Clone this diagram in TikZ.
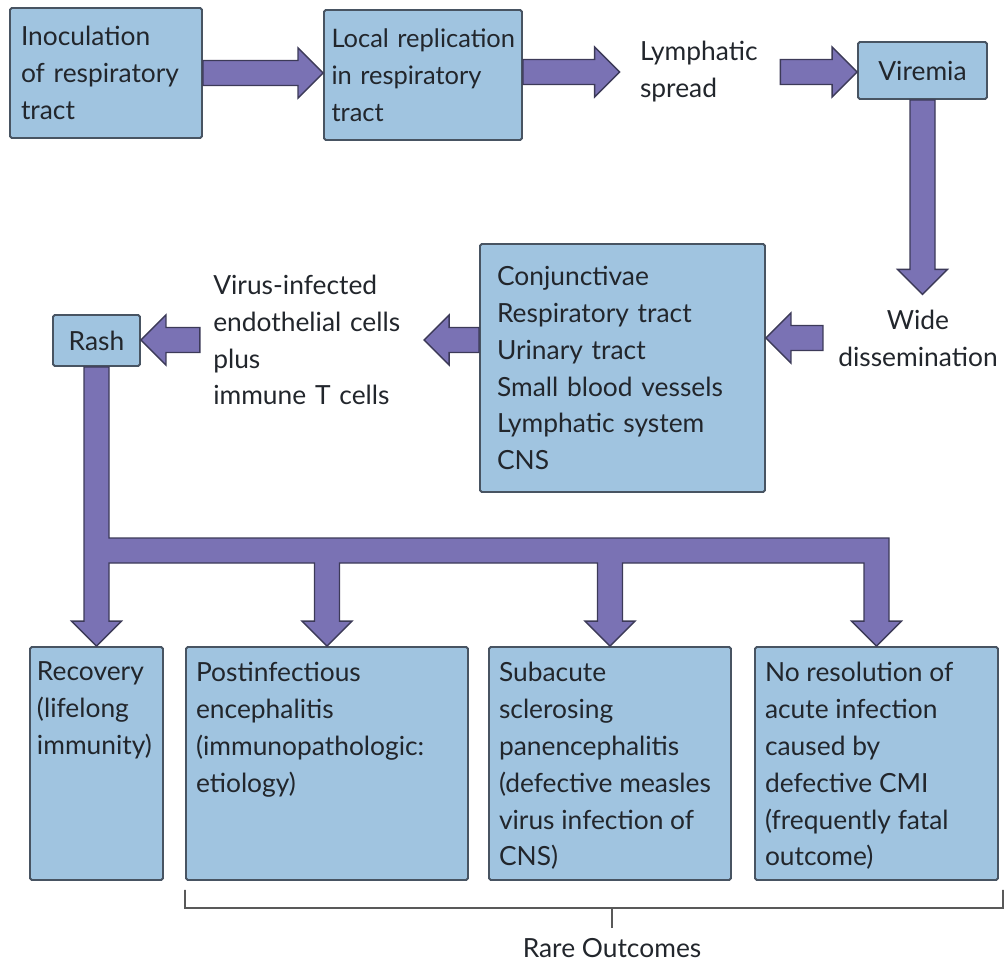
\documentclass[tikz,border=0pt]{standalone}
\usepackage{fontspec}
\setmainfont{Lato}
\usetikzlibrary{calc}
\hyphenpenalty=10000
\exhyphenpenalty=10000

\definecolor{boxblue}{RGB}{160,196,224}
\definecolor{boxedge}{RGB}{72,84,98}
\definecolor{arrowfill}{RGB}{122,114,180}
\definecolor{arrowedge}{RGB}{60,58,88}
\definecolor{inktext}{RGB}{34,38,44}

% block arrow sizes
\newcommand{\shaftw}{0.25cm}
\newcommand{\headw}{0.5cm}
\newcommand{\headl}{0.5cm}
% block arrow from #1 to tip #2
\newcommand{\fatarrow}[2]{%
  \coordinate (fah) at ($(#2)!\headl!(#1)$);
  \filldraw[fat] ($(#1)!\shaftw!90:(#2)$) -- ($(fah)!\shaftw!90:(#2)$)
    -- ($(fah)!\headw!90:(#2)$) -- (#2) -- ($(fah)!\headw!-90:(#2)$)
    -- ($(fah)!\shaftw!-90:(#2)$) -- ($(#1)!\shaftw!-90:(#2)$) -- cycle;}
% text set at the top of an outcome box
\newcommand{\toptext}[3]{\parbox[t][#1][t]{#2}{\raggedright #3}}

\begin{document}
\begin{tikzpicture}[font=\fontsize{15}{21}\selectfont, text=inktext,
    box/.style={draw=boxedge, fill=boxblue, line width=1.1pt, rounded corners=1pt, align=left, inner xsep=0.3cm},
    outcome/.style={draw=boxedge, fill=boxblue, line width=1.1pt, rounded corners=1pt, inner xsep=0.2cm, inner ysep=0.3cm},
    note/.style={align=left},
    fat/.style={fill=arrowfill, draw=arrowedge, line width=0.8pt},
    brace/.style={draw=black!65, line width=1pt}]
  \useasboundingbox (0,0) rectangle (20.16,-19.22);

  % top row
  \node[box, minimum width=3.84cm, minimum height=2.6cm, text width=3.4cm, inner xsep=0.22cm] (inoc) at (2.12,-1.46) {Inoculation\\of respiratory\\tract};
  \node[box, minimum width=3.96cm, minimum height=2.6cm, text width=3.66cm, inner xsep=0.15cm,
        font=\fontsize{14.5}{21}\selectfont] (local) at (8.46,-1.5) {\mbox{Local replication}\\in respiratory\\tract};
  \node[note, text width=2.4cm, inner xsep=0.4cm] (lymph) at (14.0,-1.44) {Lymphatic\\spread};
  \node[box, minimum width=2.58cm, minimum height=1.14cm, align=center] (viremia) at (18.45,-1.41) {Viremia};

  % middle row
  \node[note, align=center, inner sep=0.3cm] (wide) at (18.36,-6.76) {Wide\\dissemination};
  \node[box, minimum width=5.7cm, minimum height=4.96cm, text width=5.02cm, inner xsep=0.34cm] (sites) at (12.45,-7.36)
    {Conjunctivae\\Respiratory tract\\Urinary tract\\Small blood vessels\\Lymphatic system\\CNS};
  \node[note, text width=3.95cm, inner xsep=0.26cm] (virus) at (6.24,-6.8) {Virus-infected\\endothelial cells\\plus\\immune T cells};
  \node[box, minimum width=1.74cm, minimum height=1.02cm, align=center, inner xsep=0pt] (rash) at (1.93,-6.81) {Rash};

  % outcomes
  \node[outcome, inner xsep=0.14cm] (recov) at (1.93,-15.27) {\toptext{4.06cm}{2.38cm}{Recovery\\(lifelong\\immunity)}};
  \node[outcome] (postinf) at (6.54,-15.27) {\toptext{4.06cm}{5.24cm}{Postinfectious\\encephalitis\\(immunopathologic:\\etiology)}};
  \node[outcome] (subac) at (12.2,-15.27) {\toptext{4.06cm}{4.44cm}{Subacute\\sclerosing\\panencephalitis\\(defective measles\\virus infection of\\CNS)}};
  \node[outcome] (nores) at (17.53,-15.27) {\toptext{4.06cm}{4.46cm}{No resolution of\\acute infection\\caused by\\defective CMI\\(frequently fatal\\outcome)}};
  \node[note, inner sep=0.2cm] (rare) at (12.24,-18.96) {Rare Outcomes};

  % arrows
  \fatarrow{inoc.east}{inoc.east -| local.west}
  \fatarrow{lymph.west -| local.east}{lymph.west}
  \fatarrow{lymph.east}{lymph.east -| viremia.west}
  \fatarrow{viremia.south}{viremia.south |- wide.north}
  \fatarrow{wide.west}{wide.west -| sites.east}
  \fatarrow{virus.east -| sites.west}{virus.east}
  \fatarrow{virus.west}{virus.west -| rash.east}

  % rash branches
  \filldraw[fat] let \p1=(rash.south), \p2=(recov.north), \p3=(postinf.north), \p4=(subac.north), \p5=(nores.north) in
    (\x1-\shaftw,\y1) -- (\x2-\shaftw,\y2+\headl) -- (\x2-\headw,\y2+\headl) -- (\x2,\y2)
    -- (\x2+\headw,\y2+\headl) -- (\x2+\shaftw,\y2+\headl) -- (\x2+\shaftw,-11.26cm)
    -- (\x3-\shaftw,-11.26cm) -- (\x3-\shaftw,\y3+\headl) -- (\x3-\headw,\y3+\headl) -- (\x3,\y3)
    -- (\x3+\headw,\y3+\headl) -- (\x3+\shaftw,\y3+\headl) -- (\x3+\shaftw,-11.26cm)
    -- (\x4-\shaftw,-11.26cm) -- (\x4-\shaftw,\y4+\headl) -- (\x4-\headw,\y4+\headl) -- (\x4,\y4)
    -- (\x4+\headw,\y4+\headl) -- (\x4+\shaftw,\y4+\headl) -- (\x4+\shaftw,-11.26cm)
    -- (\x5-\shaftw,-11.26cm) -- (\x5-\shaftw,\y5+\headl) -- (\x5-\headw,\y5+\headl) -- (\x5,\y5)
    -- (\x5+\headw,\y5+\headl) -- (\x5+\shaftw,\y5+\headl) -- (\x5+\shaftw,-10.76cm)
    -- (\x1+\shaftw,-10.76cm) -- (\x1+\shaftw,\y1) -- cycle;

  % rare outcomes bracket
  \coordinate (brk) at ($(nores.south east)+(0.08,-0.54)$);
  \draw[brace] ($(postinf.south west)+(0,-0.18)$) -- ++(0,-0.36) -- (brk) -- ++(0,0.36);
  \draw[brace] (rare.north) -- (rare.north |- brk);
\end{tikzpicture}
\end{document}
